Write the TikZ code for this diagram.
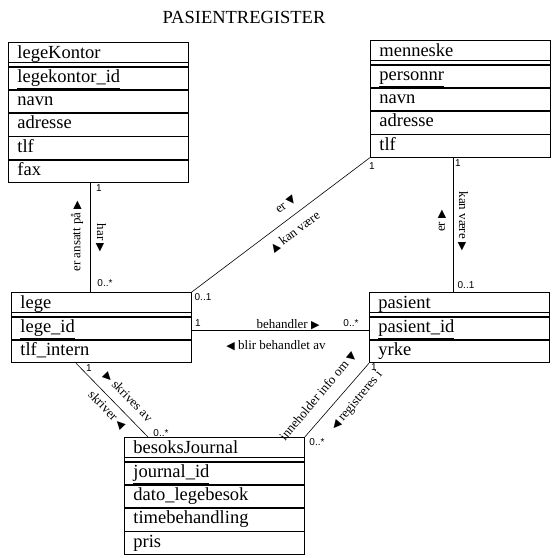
\documentclass[tikz,border=0pt]{standalone}
\usepackage{fontspec}
\setmainfont{Liberation Serif}
\setsansfont{Liberation Sans}
\newfontfamily\symfont{DejaVu Sans}
\usetikzlibrary{positioning}
\newcommand{\pil}[1]{{\symfont\fontsize{11}{11}\selectfont #1}}
\tikzset{
	felt/.style={draw,rectangle,line width=0.8pt,text width=162pt,inner xsep=9pt,inner ysep=0pt,minimum height=22.4pt,align=left,text height=12pt,text depth=4pt,font=\fontsize{18.5}{20}\selectfont},
	hode/.style={felt,minimum height=24pt,anchor=north west,path picture={\draw[line width=0.7pt] ([yshift=3.6pt]path picture bounding box.south west) -- ([yshift=3.6pt]path picture bounding box.south east);}},
	rolle/.style={inner sep=0pt,font=\fontsize{13}{15}\selectfont},
	mult/.style={inner sep=0pt,font=\sffamily\fontsize{10}{12}\selectfont},
	linje/.style={line width=0.6pt}
}

\begin{document}
\begin{tikzpicture}[x=1pt,y=-1pt]
	\useasboundingbox (0,0) rectangle (557,558);
	\node[font=\fontsize{18.5}{20}\selectfont] (tittel) at (244,17) {PASIENTREGISTER};

	% klassene
	\node[hode] (kontor) at (8,42) {legeKontor};
	\node[felt,below=0pt of kontor] (kid) {\underline{legekontor\_id}};
	\node[felt,below=0pt of kid] (knavn) {navn};
	\node[felt,below=0pt of knavn] (kadr) {adresse};
	\node[felt,below=0pt of kadr] (ktlf) {tlf};
	\node[felt,below=0pt of ktlf] (kfax) {fax};

	\node[hode] (menn) at (370,40) {menneske};
	\node[felt,below=0pt of menn] (pnr) {\underline{personnr}};
	\node[felt,below=0pt of pnr] (mnavn) {navn};
	\node[felt,below=0pt of mnavn] (madr) {adresse};
	\node[felt,below=0pt of madr] (mtlf) {tlf};

	\node[hode] (lege) at (11,292) {lege};
	\node[felt,below=0pt of lege] (lid) {\underline{lege\_id}};
	\node[felt,below=0pt of lid] (lintern) {tlf\_intern};

	\node[hode] (pas) at (369,292) {pasient};
	\node[felt,below=0pt of pas] (pid) {\underline{pasient\_id}};
	\node[felt,below=0pt of pid] (pyrke) {yrke};

	\node[hode] (besok) at (124,437) {besoksJournal};
	\node[felt,below=0pt of besok] (jid) {\underline{journal\_id}};
	\node[felt,below=0pt of jid] (jdato) {dato\_legebesok};
	\node[felt,below=0pt of jdato] (jtime) {timebehandling};
	\node[felt,below=0pt of jtime] (jpris) {pris};

	% forbindelser
	\draw[linje] ([xshift=-8pt]kfax.south) coordinate (ka) -- (ka |- lege.north);
	\draw[linje] ([xshift=-7pt]mtlf.south) coordinate (ma) -- (ma |- pas.north);
	\draw[linje] (lege.north east) -- (mtlf.south west);
	\draw[linje] ([yshift=-2pt]lid.east) -- ([yshift=-2pt]pid.west);
	\draw[linje] ([xshift=65pt]lintern.south west) -- ([xshift=24pt]besok.north west);
	\draw[linje] (besok.north east) -- (pyrke.south west);

	% roller og multiplisitet
	\node[mult] (k1) at (99,188) {1};
	\node[mult] (k2) at (105,283) {0..*};
	\node[rolle,rotate=90] (ansatt) at (77,236) {er ansatt på \pil{▶}};
	\node[rolle,rotate=-90] (har) at (101,238) {har \pil{▶}};

	\node[mult] (m1) at (458,163) {1};
	\node[mult] (m2) at (466,285) {0..1};
	\node[rolle,rotate=-90] (kanv) at (463,221) {kan være \pil{▶}};
	\node[rolle,rotate=90] (er) at (442,221) {er \pil{▶}};

	\node[mult] (d1) at (372,166) {1};
	\node[mult] (d2) at (203,297) {0..1};
	\node[rolle,rotate=37] (erd) at (286,205) {er \pil{▼}};
	\node[rolle,rotate=37] (kand) at (295,232) {\pil{▲} kan være};

	\node[mult] (h1) at (198,323) {1};
	\node[mult] (h2) at (351,323) {0..*};
	\node[rolle] (beh) at (288,325) {behandler \pil{▶}};
	\node[rolle] (blir) at (276,346) {\pil{◀} blir behandlet av};

	\node[mult] (s1) at (89,368) {1};
	\node[mult] (s2) at (161,433) {0..*};
	\node[rolle,rotate=-46] (skrives) at (128,397) {\pil{▶} skrives av};
	\node[rolle,rotate=-46] (skriver) at (107,410) {skriver \pil{◀}};

	\node[mult] (r1) at (374,367) {1};
	\node[mult] (r2) at (317,442) {0..*};
	\node[rolle,rotate=50] (info) at (318,396) {inneholder info om \pil{▼}};
	\node[rolle,rotate=50] (reg) at (357,401) {\pil{◀} registreres i};
\end{tikzpicture}
\end{document}
